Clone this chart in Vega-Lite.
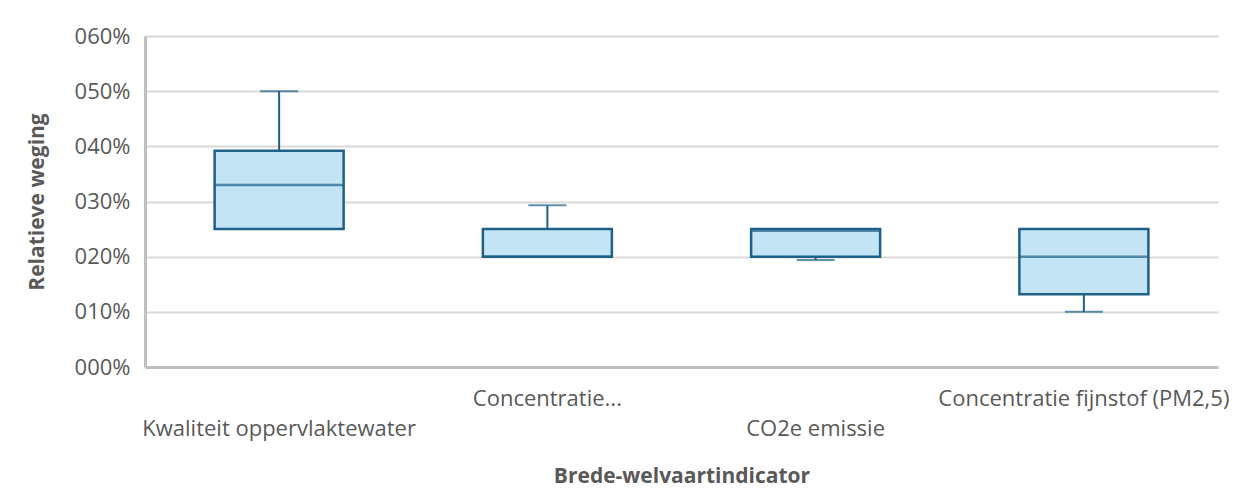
{
  "$schema": "https://vega.github.io/schema/vega-lite/v6.json",
  "width": 1073,
  "height": 331,
  "autosize": {"type": "none"},
  "padding": {"left": 145, "top": 36, "right": 27, "bottom": 132},
  "background": "white",
  "config": {
    "view": {"stroke": null},
    "font": "Open Sans"
  },
  "data": {
    "values": [
      {"indicator": "Kwaliteit oppervlaktewater", "min": 0.25, "q1": 0.25, "median": 0.33, "q3": 0.392, "max": 0.50},
      {"indicator": "Concentratie...", "min": 0.20, "q1": 0.20, "median": 0.20, "q3": 0.25, "max": 0.293},
      {"indicator": "CO2e emissie", "min": 0.194, "q1": 0.20, "median": 0.247, "q3": 0.25, "max": 0.25},
      {"indicator": "Concentratie fijnstof (PM2,5)", "min": 0.10, "q1": 0.132, "median": 0.20, "q3": 0.25, "max": 0.25}
    ]
  },
  "encoding": {
    "x": {
      "field": "indicator",
      "type": "nominal",
      "sort": null,
      "scale": {"paddingInner": 0, "paddingOuter": 0},
      "axis": {
        "title": "Brede-welvaartindicator",
        "titleFont": "Open Sans",
        "titleFontSize": 21,
        "titleFontWeight": "bold",
        "titleColor": "#595959",
        "titlePadding": 26,
        "labelAngle": 0,
        "labelFont": "Open Sans",
        "labelFontSize": 22,
        "labelColor": "#595959",
        "labelPadding": 21,
        "labelLineHeight": 30,
        "labelOverlap": false,
        "labelBound": false,
        "labelFlush": false,
        "labelLimit": 0,
        "labelExpr": "datum.label === 'CO2e emissie' || datum.label === 'Kwaliteit oppervlaktewater' ? ['', datum.label] : datum.label",
        "ticks": false,
        "domainColor": "#bfbfbf",
        "domainWidth": 3,
        "grid": false
      }
    }
  },
  "layer": [
    {
      "mark": {"type": "rule", "color": "#1e6188", "strokeWidth": 2},
      "encoding": {
        "y": {
          "field": "min",
          "type": "quantitative",
          "scale": {"domain": [0, 0.6], "nice": false},
          "axis": {
            "title": "Relatieve weging",
            "titleFont": "Open Sans",
            "titleFontSize": 21,
            "titleFontWeight": "bold",
            "titleColor": "#595959",
            "titlePadding": 27,
            "format": "04.0%",
            "values": [0, 0.1, 0.2, 0.3, 0.4, 0.5, 0.6],
            "labelFont": "Open Sans",
            "labelFontSize": 22,
            "labelColor": "#595959",
            "labelPadding": 15,
            "ticks": false,
            "domainColor": "#bfbfbf",
            "domainWidth": 3,
            "gridColor": "#d9d9d9",
            "gridWidth": 2
          }
        },
        "y2": {"field": "max"}
      }
    },
    {
      "mark": {"type": "tick", "color": "#1e6188", "size": 38, "thickness": 2, "orient": "horizontal"},
      "encoding": {"y": {"field": "max", "type": "quantitative"}}
    },
    {
      "mark": {"type": "tick", "color": "#1e6188", "size": 38, "thickness": 2, "orient": "horizontal"},
      "encoding": {"y": {"field": "min", "type": "quantitative"}}
    },
    {
      "mark": {"type": "bar", "fill": "#c2e4f5", "stroke": "#1e6188", "strokeWidth": 2.5, "width": 129},
      "encoding": {
        "y": {"field": "q1", "type": "quantitative"},
        "y2": {"field": "q3"}
      }
    },
    {
      "mark": {"type": "tick", "color": "#1e6188", "size": 129, "thickness": 2.5, "orient": "horizontal"},
      "encoding": {"y": {"field": "median", "type": "quantitative"}}
    }
  ]
}
